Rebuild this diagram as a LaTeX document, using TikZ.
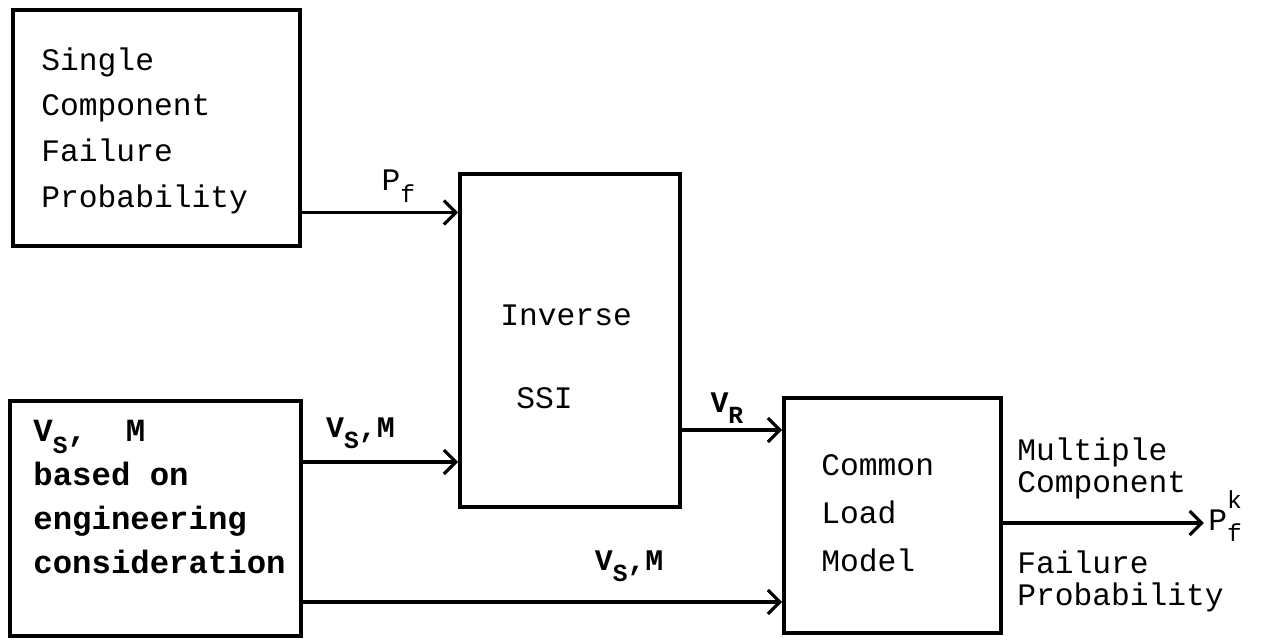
\documentclass[tikz,border=0pt]{standalone}
\usepackage{fontspec}
\setmainfont{Liberation Mono}
\usetikzlibrary{arrows.meta, positioning, calc}

% typewriter half-line shifts
\newcommand{\tsub}[1]{\raisebox{-6.8pt}{\fontsize{14}{14}\selectfont #1}}
\newcommand{\tsup}[1]{\raisebox{12.5pt}{\fontsize{14}{14}\selectfont #1}}

\begin{document}
\begin{tikzpicture}[
  box/.style={draw, line width=2.2pt, inner sep=0pt},
  txt/.style={font=\fontsize{17.8}{26}\selectfont, align=left, anchor=base west, inner sep=0pt},
  lab/.style={font=\bfseries\fontsize{17}{20}\selectfont, inner sep=0pt, anchor=base west},
  arr/.style={-{Straight Barb[length=0.24cm,width=0.48cm]}, line width=1.8pt}
]
  \useasboundingbox (0,0) rectangle (25.22,-12.78);

  % blocks
  \node[box, minimum width=5.74cm, minimum height=4.72cm] (single) at (3.13,-2.56) {};
  \node[box, minimum width=5.82cm, minimum height=4.70cm] (vsm) at (3.11,-10.37) {};
  \node[box, minimum width=4.40cm, minimum height=6.66cm] (ssi) at (11.40,-6.81) {};
  \node[box, minimum width=4.34cm, minimum height=4.70cm] (load) at (17.85,-10.31) {};

  % text sits on the baseline of its last line
  \node[txt] (singletxt) at ([xshift=0.6cm,yshift=-3.98cm]single.north west)
    {Single\\Component\\Failure\\Probability};
  \node[txt, font=\bfseries\fontsize{18.4}{25}\selectfont] (vsmtxt) at ([xshift=0.5cm,yshift=-3.48cm]vsm.north west)
    {V\tsub{S},\ \ M\\based on\\engineering\\consideration};
  \node[txt] (ssitxt) at ([xshift=0.84cm,yshift=-4.72cm]ssi.north west)
    {Inverse\\[21pt]\hspace*{0.32cm}SSI};
  \node[txt, font=\fontsize{17.8}{27.2}\selectfont] (loadtxt) at ([xshift=0.78cm,yshift=-3.5cm]load.north west)
    {Common\\Load\\Model};

  % connections
  \draw[arr] ([yshift=-1.69cm]single.east) -- ([yshift=-1.69cm]single.east -| ssi.west)
    node[txt, pos=0.5, yshift=0.44cm] (pflab) {P\tsub{f}};
  \draw[arr] ([yshift=1.13cm]vsm.east) -- ([yshift=1.13cm]vsm.east -| ssi.west)
    node[lab, pos=0.14, yshift=0.5cm] (vsmlab) {V\tsub{S},M};
  \draw[arr] ([yshift=-1.67cm]vsm.east) -- ([yshift=-1.67cm]vsm.east -| load.west)
    node[lab, pos=0.606, yshift=0.64cm] (vslab) {V\tsub{S},M};
  \draw[arr] ([yshift=-1.79cm]ssi.east) -- ([yshift=-1.79cm]ssi.east -| load.west)
    node[lab, pos=0.27, yshift=0.36cm] (vrlab) {V\tsub{R}};

  % output
  \node[anchor=base west, inner sep=0.08cm, font=\fontsize{17.8}{26}\selectfont] (pfk)
    at ([xshift=4.02cm,yshift=-0.29cm]load.east) {P\rlap{\tsup{k}}\tsub{f}};
  \draw[arr] ([yshift=-0.15cm]load.east) -- ([yshift=-0.15cm]load.east -| pfk.west);
  \node[txt, font=\fontsize{17.8}{18.2}\selectfont] (multi) at ([xshift=0.28cm,yshift=0.47cm]load.east)
    {Multiple\\Component};
  \node[txt, font=\fontsize{17.8}{18.2}\selectfont] (fail) at ([xshift=0.28cm,yshift=-1.79cm]load.east)
    {Failure\\Probability};
\end{tikzpicture}
\end{document}
